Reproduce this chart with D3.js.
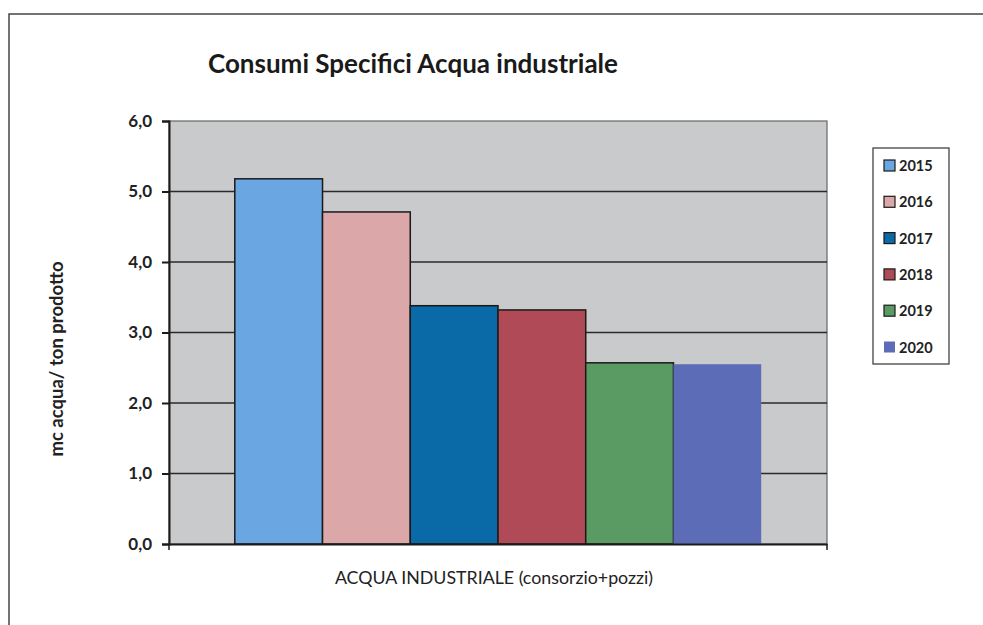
<!DOCTYPE html>
<html>
<head>
<meta charset="utf-8">
<script src="https://cdn.jsdelivr.net/npm/d3@7"></script>
<style>
  body { margin: 0; background: #fff; }
  svg { display: block; font-family: Lato, "Open Sans", sans-serif; }
</style>
</head>
<body>
<svg id="chart" width="983" height="625"></svg>
<script>
// data
var years = ["2015", "2016", "2017", "2018", "2019", "2020"];
var values = [5.18, 4.71, 3.38, 3.32, 2.57, 2.55];
var category = "ACQUA INDUSTRIALE (consorzio+pozzi)";
var yTicks = [0, 1, 2, 3, 4, 5, 6];

var colors = ["#6aa6e2", "#dca7a9", "#0a6aa8", "#b04a56", "#5a9a63", "#5c6cb6"];

var svg = d3.select("#chart");

// outer frame of the chart object
svg.append("rect")
    .attr("x", 9).attr("y", 14)
    .attr("width", 990).attr("height", 630)
    .attr("fill", "none")
    .attr("stroke", "#444")
    .attr("stroke-width", 1.5);

var plot = {left: 169, top: 121, right: 827, bottom: 544};

var y = d3.scaleLinear().domain([0, 6]).range([plot.bottom, plot.top]);

var x0 = d3.scaleBand()
    .domain([category])
    .range([plot.left, plot.right])
    .paddingInner(0)
    .paddingOuter(0.125);  // excel gap width 150%

var x1 = d3.scaleBand()
    .domain(years)
    .range([x0(category), x0(category) + x0.bandwidth()])
    .padding(0);

// plot background
svg.append("rect")
    .attr("x", plot.left).attr("y", plot.top)
    .attr("width", plot.right - plot.left)
    .attr("height", plot.bottom - plot.top)
    .attr("fill", "#c9cacb")
    .attr("stroke", "#666")
    .attr("stroke-width", 1.2);

// gridlines
svg.append("g")
    .selectAll("line")
    .data(yTicks.filter(function(d) { return d > 0 && d < 6; }))
    .enter().append("line")
    .attr("x1", plot.left).attr("x2", plot.right)
    .attr("y1", function(d) { return y(d); })
    .attr("y2", function(d) { return y(d); })
    .attr("stroke", "#2a2a2a")
    .attr("stroke-width", 1.5);

// bars
svg.append("g")
    .selectAll("rect")
    .data(values)
    .enter().append("rect")
    .attr("x", function(d, i) { return x1(years[i]); })
    .attr("y", function(d) { return y(d); })
    .attr("width", x1.bandwidth())
    .attr("height", function(d) { return y(0) - y(d); })
    .attr("fill", function(d, i) { return colors[i]; })
    .attr("stroke", function(d, i) { return i === 5 ? "none" : "#1a1a1a"; })
    .attr("stroke-width", 1.5);

// y axis
var yAxis = d3.axisLeft(y)
    .tickValues(yTicks)
    .tickSize(7)
    .tickPadding(10)
    .tickFormat(function(d) { return d3.format(".1f")(d).replace(".", ","); });

var gy = svg.append("g")
    .attr("transform", "translate(" + plot.left + ",0)")
    .call(yAxis);
gy.select(".domain").attr("stroke", "#1a1a1a").attr("stroke-width", 2);
gy.selectAll(".tick line").attr("stroke", "#1a1a1a").attr("stroke-width", 2);
gy.selectAll(".tick text")
    .attr("fill", "#222")
    .style("font-size", "17px")
    .style("font-weight", "bold")
    .style("font-family", "Lato, sans-serif");

// x axis line with end ticks
var xAxis = d3.axisBottom(x0).tickSize(0).tickFormat("");
var gx = svg.append("g")
    .attr("transform", "translate(0," + plot.bottom + ")")
    .call(xAxis);
gx.select(".domain").attr("stroke", "#1a1a1a").attr("stroke-width", 2);
gx.selectAll("line.edge")
    .data([plot.left, plot.right])
    .enter().append("line")
    .attr("class", "edge")
    .attr("x1", function(d) { return d; }).attr("x2", function(d) { return d; })
    .attr("y1", 0).attr("y2", 6)
    .attr("stroke", "#1a1a1a").attr("stroke-width", 1.5);

// category label
svg.append("text")
    .attr("x", 494).attr("y", 584)
    .attr("text-anchor", "middle")
    .style("font-size", "17.8px")
    .attr("fill", "#222")
    .text(category);

// y axis title
svg.append("text")
    .attr("transform", "translate(63,359) rotate(-90)")
    .attr("text-anchor", "middle")
    .style("font-size", "18.5px")
    .style("font-weight", "bold")
    .attr("fill", "#222")
    .text("mc acqua/ ton prodotto");

// chart title
svg.append("text")
    .attr("x", 208).attr("y", 73)
    .style("font-size", "26px")
    .style("font-weight", "bold")
    .attr("fill", "#1a1a1a")
    .text("Consumi Specifici Acqua industriale");

// legend
var legend = svg.append("g").attr("transform", "translate(873,148)");
legend.append("rect")
    .attr("width", 76).attr("height", 216)
    .attr("fill", "#fff")
    .attr("stroke", "#333")
    .attr("stroke-width", 1.2);

var item = legend.selectAll("g.item")
    .data(years)
    .enter().append("g")
    .attr("class", "item")
    .attr("transform", function(d, i) { return "translate(0," + (18 + i * 36.3) + ")"; });

item.append("rect")
    .attr("x", 11).attr("y", -6)
    .attr("width", 11).attr("height", 11)
    .attr("fill", function(d, i) { return colors[i]; })
    .attr("stroke", function(d, i) { return i === 5 ? "none" : "#1a1a1a"; })
    .attr("stroke-width", 1.2);

item.append("text")
    .attr("x", 26).attr("y", 5)
    .style("font-size", "14.5px")
    .style("font-weight", "bold")
    .attr("fill", "#222")
    .text(function(d) { return d; });
</script>
</body>
</html>
